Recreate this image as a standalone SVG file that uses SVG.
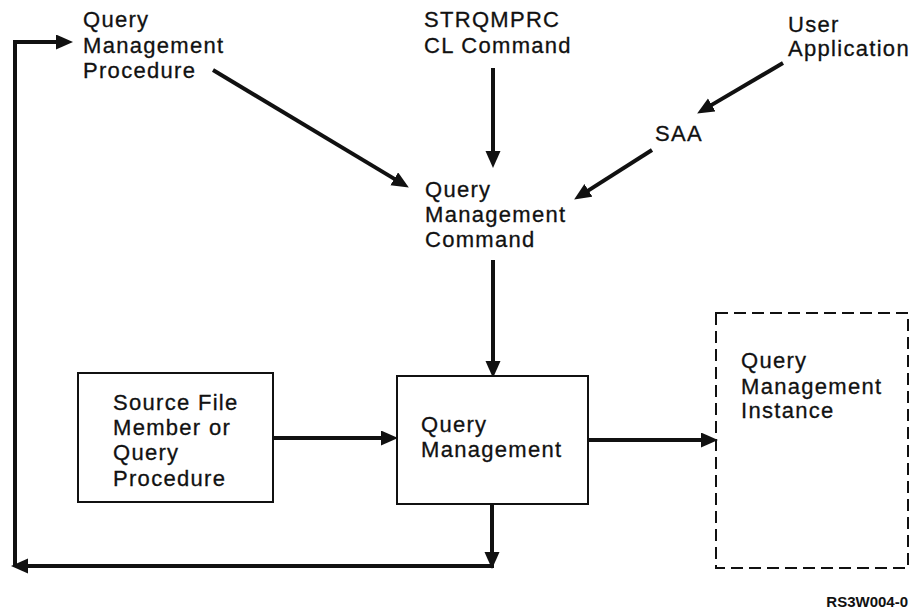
<svg xmlns="http://www.w3.org/2000/svg" width="915" height="612" viewBox="0 0 915 612">
<style>
text{font-family:"Liberation Sans",Arial,sans-serif;font-size:22px;letter-spacing:1.3px;fill:#111;stroke:#111;stroke-width:0.3}
.ln{fill:none;stroke:#111;stroke-width:4;marker-end:url(#ah)}
.box{fill:#fff;stroke:#111;stroke-width:2}
.dash{fill:none;stroke:#111;stroke-width:2;stroke-dasharray:12 6}
.code{font-size:15px;font-weight:bold;letter-spacing:0;stroke:none}
</style>
<defs>
<marker id="ah" markerUnits="userSpaceOnUse" markerWidth="18" markerHeight="16" refX="6" refY="7.5" orient="auto" viewBox="0 0 18 16">
<path d="M0,0 L17,7.5 L0,15 z" fill="#111"/>
</marker>
</defs>
<rect width="915" height="612" fill="#fff"/>
<g id="connectors">
<path class="ln" d="M213,70 L399.4,181.9"/>
<path class="ln" d="M493,68 V157"/>
<path class="ln" d="M783,63 L706.6,107.9"/>
<path class="ln" d="M652,150 L583.4,193.6"/>
<path class="ln" d="M493,260 V367"/>
<path class="ln" d="M273,438 H387"/>
<path class="ln" d="M588,440 H707"/>
<path class="ln" d="M492,504 V558"/>
<path class="ln" d="M494,566 H22"/>
<path class="ln" d="M15,566 V42 H62"/>
</g>
<g id="qm-procedure">
<text x="83" y="27"><tspan x="83">Query</tspan><tspan x="83" dy="26">Management</tspan><tspan x="83" dy="25">Procedure</tspan></text>
</g>
<g id="strqmprc">
<text x="424" y="27"><tspan x="424">STRQMPRC</tspan><tspan x="424" dy="26">CL Command</tspan></text>
</g>
<g id="user-app">
<text x="788" y="32"><tspan x="788">User</tspan><tspan x="788" dy="24">Application</tspan></text>
</g>
<g id="saa">
<text x="655" y="141">SAA</text>
</g>
<g id="qm-command">
<text x="425" y="197"><tspan x="425">Query</tspan><tspan x="425" dy="25">Management</tspan><tspan x="425" dy="25">Command</tspan></text>
</g>
<g id="source-file">
<rect class="box" x="78" y="373" width="195" height="129"/>
<text x="113" y="410"><tspan x="113">Source File</tspan><tspan x="113" dy="25">Member or</tspan><tspan x="113" dy="25">Query</tspan><tspan x="113" dy="26">Procedure</tspan></text>
</g>
<g id="query-management">
<rect class="box" x="397" y="376" width="191" height="128"/>
<text x="421" y="432"><tspan x="421">Query</tspan><tspan x="421" dy="25">Management</tspan></text>
</g>
<g id="qm-instance">
<rect class="dash" x="716" y="313" width="192" height="255"/>
<text x="741" y="368"><tspan x="741">Query</tspan><tspan x="741" dy="26">Management</tspan><tspan x="741" dy="24">Instance</tspan></text>
</g>
<text class="code" x="908" y="607" text-anchor="end">RS3W004-0</text>
</svg>
